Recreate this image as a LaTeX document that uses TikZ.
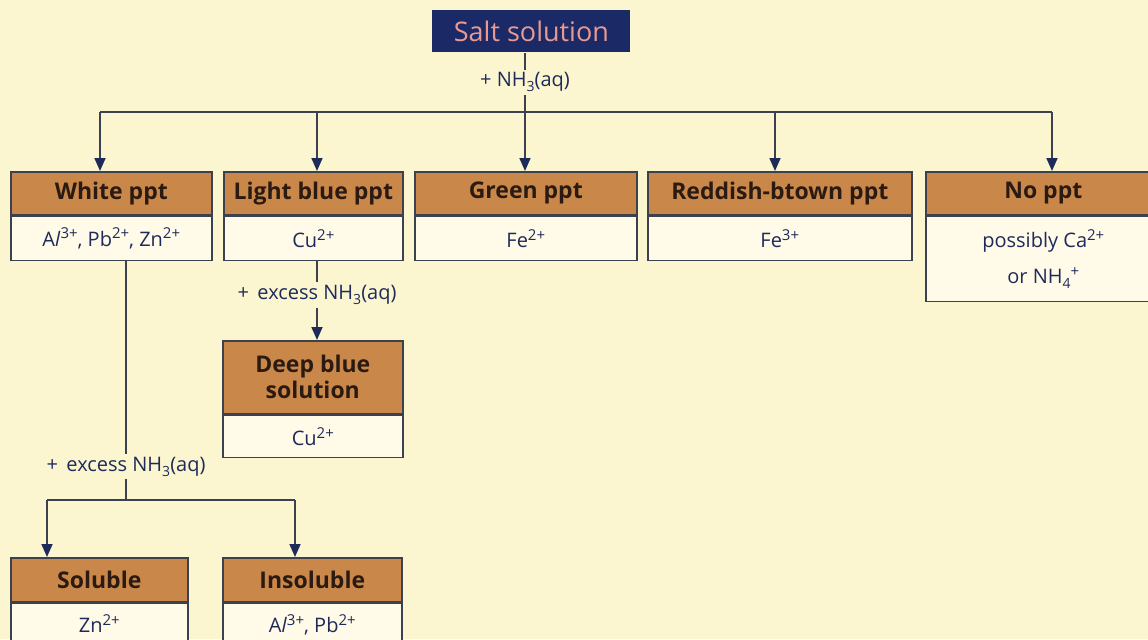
\documentclass[tikz,border=0pt]{standalone}
\usepackage{fontspec}
\setmainfont{Open Sans}
\usetikzlibrary{arrows.meta}

\definecolor{paper}{HTML}{FBF6D0}
\definecolor{tan}{HTML}{C98849}
\definecolor{cream}{HTML}{FFFBE8}
\definecolor{rule}{HTML}{3C4150}
\definecolor{ink}{HTML}{1E2A5A}
\definecolor{hdrtext}{HTML}{2B1A12}
\definecolor{navy}{HTML}{1B2A66}
\definecolor{salmon}{HTML}{E89A92}

% ionic charge, a little larger than \textsuperscript
\newcommand{\chg}[1]{\raisebox{0.36em}{\fontsize{7.5}{8}\selectfont #1}}
\newcommand{\sbs}[1]{\raisebox{-0.25em}{\fontsize{7}{8}\selectfont #1}}

\tikzset{
  hdr/.style={draw=rule, fill=tan, text=hdrtext, line width=0.8pt, inner sep=0pt,
    anchor=north west, align=center, font=\bfseries\fontsize{11.5}{13}\selectfont},
  ion/.style={draw=rule, fill=cream, text=ink, line width=0.8pt, inner sep=0pt,
    anchor=north west, align=center, font=\fontsize{10}{18}\selectfont},
  cond/.style={fill=paper, text=ink, inner sep=1.5pt, font=\fontsize{10}{12}\selectfont},
  link/.style={draw=rule, line width=0.8pt},
  arr/.style={link, -{Triangle[width=5.5pt,length=6.5pt,color=ink]}}
}

\begin{document}
\begin{tikzpicture}[x=0.5pt, y=-0.5pt]
  \clip (0,0) rectangle (1148,639);
  \fill[paper] (0,0) rectangle (1148,639);

  % top of the tree
  \node[fill=navy, text=salmon, anchor=north west, minimum width=99pt, minimum height=21pt,
    inner sep=0pt, font=\fontsize{13.5}{15}\selectfont] (salt) at (432,10) {Salt solution};

  % first row
  \node[hdr, minimum width=100.5pt, minimum height=21.5pt] (white) at (10,171) {White ppt};
  \node[ion, minimum width=100.5pt, minimum height=22pt] (whiteions) at (white.south west)
    {A\textit{l}\chg{3+}, Pb\chg{2+}, Zn\chg{2+}};
  \node[hdr, minimum width=89.5pt, minimum height=21.5pt] (ltblue) at (223,171) {Light blue ppt};
  \node[ion, minimum width=89.5pt, minimum height=22pt] (ltblueions) at (ltblue.south west)
    {Cu\chg{2+}};
  \node[hdr, minimum width=111pt, minimum height=21.5pt] (green) at (414,171) {Green ppt};
  \node[ion, minimum width=111pt, minimum height=22pt] (greenions) at (green.south west)
    {Fe\chg{2+}};
  \node[hdr, minimum width=132pt, minimum height=21.5pt] (reddish) at (647,171) {Reddish-btown ppt};
  \node[ion, minimum width=132pt, minimum height=22pt] (reddishions) at (reddish.south west)
    {Fe\chg{3+}};
  \node[hdr, minimum width=117.5pt, minimum height=21.5pt] (noppt) at (925,171) {No ppt};
  \node[ion, minimum width=117.5pt, minimum height=42.5pt] (nopptions) at (noppt.south west)
    {possibly Ca\chg{2+}\\or NH\sbs{4}\chg{+}};

  % copper branch
  \node[hdr, minimum width=90pt, minimum height=36.5pt] (deep) at (222,340) {Deep blue\\solution};
  \node[ion, minimum width=90pt, minimum height=21pt] (deepions) at (deep.south west)
    {Cu\chg{2+}};

  % white ppt branch
  \node[hdr, minimum width=88.5pt, minimum height=22pt] (soluble) at (10,557) {Soluble};
  \node[ion, minimum width=88.5pt, minimum height=30pt] (solubleions) at (soluble.south west)
    {\raisebox{10pt}{Zn\chg{2+}}};
  \node[hdr, minimum width=89.5pt, minimum height=22pt] (insoluble) at (222,557) {Insoluble};
  \node[ion, minimum width=89.5pt, minimum height=30pt] (insolubleions) at (insoluble.south west)
    {\raisebox{10pt}{A\textit{l}\chg{3+}, Pb\chg{2+}}};

  % connectors
  \coordinate (b1) at (100,112);
  \coordinate (b2) at (317,112);
  \coordinate (b3) at (525,112);
  \coordinate (b4) at (775,112);
  \coordinate (b5) at (1052,112);
  \draw[link] (b3 |- salt.south) -- node[cond]{+ NH\sbs{3}(aq)} (b3);
  \draw[link] (b1) -- (b5);
  \draw[arr] (b1) -- (b1 |- white.north);
  \draw[arr] (b2) -- (b2 |- ltblue.north);
  \draw[arr] (b3) -- (b3 |- green.north);
  \draw[arr] (b4) -- (b4 |- reddish.north);
  \draw[arr] (b5) -- (b5 |- noppt.north);

  \draw[arr] (b2 |- ltblueions.south) -- node[cond, pos=0.43]{+\, excess NH\sbs{3}(aq)} (b2 |- deep.north);

  \coordinate (c0) at (126,500);
  \coordinate (c1) at (47,500);
  \coordinate (c2) at (295,500);
  \draw[link] (c0 |- whiteions.south) -- node[cond, pos=0.86]{+\, excess NH\sbs{3}(aq)} (c0);
  \draw[link] (c1) -- (c2);
  \draw[arr] (c1) -- (c1 |- soluble.north);
  \draw[arr] (c2) -- (c2 |- insoluble.north);
\end{tikzpicture}
\end{document}
